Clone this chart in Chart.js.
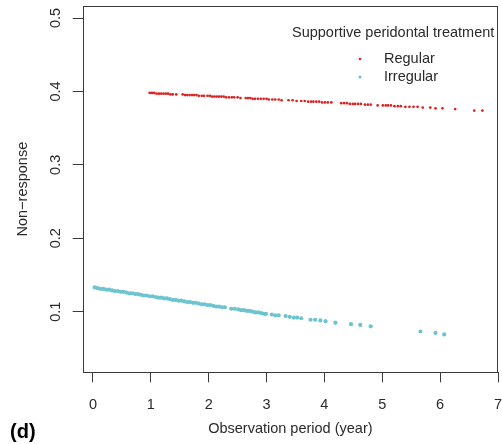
<!DOCTYPE html>
<html>
<head>
<meta charset="utf-8">
<script src="https://cdn.jsdelivr.net/npm/chart.js@4/dist/chart.umd.min.js"></script>
<style>
  html, body { margin: 0; padding: 0; background: #fff; }
  canvas { display: block; }
</style>
</head>
<body>
<canvas id="chart" width="502" height="444"></canvas>
<script>
// axis ticks
const xTicks = [0, 1, 2, 3, 4, 5, 6, 7];
const yTicks = [0.1, 0.2, 0.3, 0.4, 0.5];

const legendTitle = "Supportive peridontal treatment";
const seriesNames = ["Regular", "Irregular"];

// Regular: years, predicted non-response
const regularX = [
  0.98, 1.02, 1.06, 1.10, 1.14, 1.18,
  1.22, 1.26, 1.30, 1.34, 1.38,
  1.44,
  1.55, 1.59, 1.63, 1.67, 1.71, 1.75, 1.79, 1.83, 1.88, 1.92,
  1.98, 2.02, 2.06, 2.10, 2.14, 2.18, 2.22, 2.26, 2.30, 2.35, 2.40, 2.44,
  2.50, 2.55,
  2.64, 2.68, 2.72, 2.76, 2.80, 2.85, 2.90, 2.95, 3.00, 3.04,
  3.10, 3.15, 3.21, 3.26,
  3.38, 3.45, 3.52,
  3.60, 3.66, 3.72, 3.77,
  3.81, 3.86, 3.91, 3.96, 4.01, 4.06, 4.12,
  4.29, 4.34, 4.39, 4.44, 4.49, 4.53,
  4.58, 4.63,
  4.70, 4.75, 4.80,
  4.92,
  5.01, 5.06, 5.10,
  5.15, 5.21, 5.27, 5.32,
  5.40, 5.47, 5.54, 5.61,
  5.70, 5.83, 5.92, 6.04, 6.26, 6.59, 6.73
];
const regularY = [
  .398, .398, .398, .397, .397, .397,
  .397, .397, .397, .396, .396,
  .396,
  .396, .395, .395, .395, .395, .395, .395, .394, .394, .394,
  .394, .394, .393, .393, .393, .393, .393, .393, .392, .392, .392, .392,
  .392, .391,
  .391, .391, .391, .390, .390, .390, .390, .390, .390, .389,
  .389, .389, .389, .388,
  .388, .388, .387,
  .387, .387, .386, .386,
  .386, .386, .386, .385, .385, .385, .385,
  .384, .384, .384, .383, .383, .383,
  .383, .383,
  .382, .382, .382,
  .381,
  .381, .381, .381,
  .381, .380, .380, .380,
  .379, .379, .379, .379,
  .378, .378, .377, .377, .376, .374, .374
];

// Irregular
const irregularX = [
  0.03, 0.08, 0.13, 0.18, 0.23, 0.28, 0.33, 0.38, 0.43, 0.48,
  0.53, 0.58, 0.63, 0.68, 0.73, 0.78, 0.83, 0.88, 0.93, 0.98,
  1.03, 1.08, 1.13, 1.18, 1.23, 1.28, 1.33, 1.38, 1.43, 1.48,
  1.53, 1.58, 1.63, 1.68, 1.73, 1.78, 1.83, 1.88,
  1.93, 1.98, 2.03, 2.08, 2.13, 2.18, 2.23, 2.28,
  2.39, 2.45, 2.51, 2.56,
  2.61, 2.66, 2.71, 2.76, 2.81, 2.86, 2.91, 2.96, 2.99,
  3.09, 3.15, 3.21,
  3.33, 3.40, 3.47, 3.53, 3.60,
  3.76, 3.84, 3.93, 4.02,
  4.19,
  4.46, 4.62,
  4.80,
  5.66, 5.92, 6.07
];
const irregularY = [
  .133, .132, .131, .131, .130, .130, .129, .128, .128, .127,
  .127, .126, .125, .125, .124, .124, .123, .122, .122, .121,
  .121, .120, .119, .119, .118, .118, .117, .116, .116, .115,
  .115, .114, .113, .113, .112, .112, .111, .110,
  .110, .109, .109, .108, .107, .107, .106, .106,
  .104, .104, .103, .102,
  .102, .101, .101, .100, .099, .099, .098, .097, .097,
  .096, .095, .095,
  .094, .093, .092, .092, .091,
  .089, .089, .088, .087,
  .085,
  .083, .082,
  .080,
  .073, .071, .069
];

const RED = "#dc2222";
const CYAN = "#6cc4d1";
const FONT = '"Liberation Sans", Arial, Helvetica, sans-serif';
const INK = "#2a2a2a";

const pts = (xs, ys) => xs.map((x, i) => ({ x, y: ys[i] }));

// R-style frame, rotated y labels, legend and titles
const rDecor = {
  id: "rDecor",
  afterDraw(chart) {
    const { ctx, chartArea: a, scales } = chart;
    const xs = scales.x, ys = scales.y;
    ctx.save();
    ctx.strokeStyle = "#3a3a3a";
    ctx.lineWidth = 1;
    ctx.strokeRect(Math.round(a.left) + 0.5, Math.round(a.top) + 0.5,
      Math.round(a.right - a.left) - 1, Math.round(a.bottom - a.top));

    ctx.fillStyle = INK;
    ctx.font = "14.5px " + FONT;
    ctx.textAlign = "center";
    ctx.textBaseline = "middle";
    xTicks.forEach(v => ctx.fillText(String(v), xs.getPixelForValue(v), 405));
    yTicks.forEach(v => {
      ctx.save();
      ctx.translate(56, ys.getPixelForValue(v));
      ctx.rotate(-Math.PI / 2);
      ctx.fillText(v.toFixed(1), 0, 0);
      ctx.restore();
    });

    ctx.fillText("Observation period (year)", (a.left + a.right) / 2, 429);
    ctx.save();
    ctx.translate(23, (a.top + a.bottom) / 2);
    ctx.rotate(-Math.PI / 2);
    ctx.fillText("Non\u2212response", 0, 0);
    ctx.restore();

    // legend
    ctx.textAlign = "left";
    ctx.fillText(legendTitle, 292, 33);
    ctx.fillText(seriesNames[0], 384, 59);
    ctx.fillText(seriesNames[1], 384, 77);
    ctx.fillStyle = RED;
    ctx.beginPath(); ctx.arc(360, 59, 1.3, 0, Math.PI * 2); ctx.fill();
    ctx.fillStyle = CYAN;
    ctx.beginPath(); ctx.arc(360, 77, 1.6, 0, Math.PI * 2); ctx.fill();

    // panel tag
    ctx.fillStyle = "#000";
    ctx.font = "bold 20px " + FONT;
    ctx.fillText("(d)", 10, 432);
    ctx.restore();
  }
};

new Chart(document.getElementById("chart"), {
  type: "scatter",
  data: {
    datasets: [
      {
        label: seriesNames[0],
        data: pts(regularX, regularY),
        backgroundColor: RED,
        pointRadius: 1.35,
        pointBorderWidth: 0,
      },
      {
        label: seriesNames[1],
        data: pts(irregularX, irregularY),
        backgroundColor: CYAN,
        pointRadius: 2.1,
        pointBorderWidth: 0,
      },
    ],
  },
  options: {
    responsive: false,
    animation: false,
    layout: { padding: { top: 6, right: 1.5, left: 0, bottom: 0 } },
    plugins: { legend: { display: false }, tooltip: { enabled: false } },
    scales: {
      x: {
        type: "linear",
        min: -0.177,
        max: 7.0,
        afterBuildTicks: (s) => { s.ticks = xTicks.map(v => ({ value: v })); },
        afterFit: (s) => { s.height = 71.7; },
        ticks: { display: false },
        border: { display: false },
        grid: { drawOnChartArea: false, drawTicks: true, tickLength: 10, color: "#3a3a3a" },
      },
      y: {
        type: "linear",
        min: 0.0174,
        max: 0.5164,
        afterBuildTicks: (s) => { s.ticks = yTicks.map(v => ({ value: v })); },
        afterFit: (s) => { s.width = 82.7; },
        ticks: { display: false },
        border: { display: false },
        grid: { drawOnChartArea: false, drawTicks: true, tickLength: 10, color: "#3a3a3a" },
      },
    },
  },
  plugins: [rDecor],
});
</script>
</body>
</html>
